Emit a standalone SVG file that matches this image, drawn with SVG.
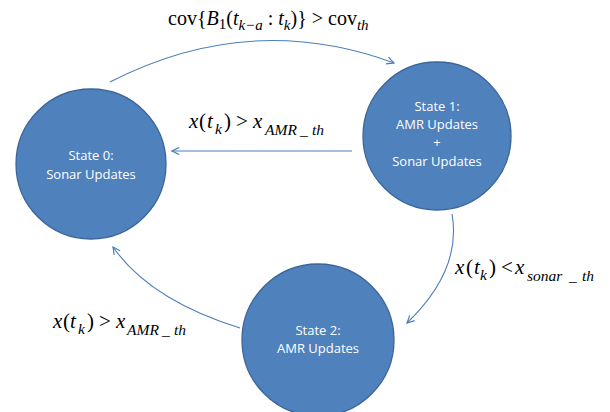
<svg xmlns="http://www.w3.org/2000/svg" width="610" height="412" viewBox="0 0 610 412">
<defs>
<style>
.st{fill:#4F81BD;stroke:#3A659A;stroke-width:1.3}
.lb{font-family:"Open Sans","Liberation Sans",sans-serif;font-size:13px;fill:#fff;text-anchor:middle}
.cn{fill:none;stroke:#4A7EBB;stroke-width:1.1}
.m{font-family:"Liberation Serif",serif;font-size:20px;fill:#000}
.n{font-family:"Liberation Serif",serif;font-size:21px;fill:#000}
.i{font-style:italic}
.s{font-style:italic;font-size:15px}
.t{font-style:italic;font-size:15.5px}
</style>
<marker id="ah" viewBox="0 0 10 10" refX="9" refY="5" markerWidth="9" markerHeight="9" markerUnits="userSpaceOnUse" orient="auto">
<path d="M1,1 L9,5 L1,9" fill="none" stroke="#4A7EBB" stroke-width="1.3"/>
</marker>
</defs>
<rect width="610" height="412" fill="#fff"/>
<g id="connectors">
<path class="cn" d="M110,82 Q250,10 394,63" marker-end="url(#ah)"/>
<path class="cn" d="M352,151 L172,151" marker-end="url(#ah)"/>
<path class="cn" d="M452,214 Q462,270 407,323" marker-end="url(#ah)"/>
<path class="cn" d="M240,328 Q150,300 113,247" marker-end="url(#ah)"/>
</g>
<g id="state0">
<circle class="st" cx="91" cy="164" r="75"/>
<text class="lb" x="91" y="160">State 0:</text>
<text class="lb" x="91" y="179">Sonar Updates</text>
</g>
<g id="state1">
<circle class="st" cx="437" cy="136" r="74"/>
<text class="lb" x="437" y="111">State 1:</text>
<text class="lb" x="437" y="129">AMR Updates</text>
<text class="lb" x="437" y="147">+</text>
<text class="lb" x="437" y="166">Sonar Updates</text>
</g>
<g id="state2">
<circle class="st" cx="318" cy="340" r="76"/>
<text class="lb" x="318" y="335">State 2:</text>
<text class="lb" x="318" y="353">AMR Updates</text>
</g>
<g id="labels">
<text class="m" x="168" y="25">cov{<tspan class="i">B</tspan><tspan font-size="15" dy="4">1</tspan><tspan dy="-4">(</tspan><tspan class="i">t</tspan><tspan class="s" dy="5">k−a</tspan><tspan dy="-5"> : </tspan><tspan class="i">t</tspan><tspan class="s" dy="5">k</tspan><tspan dy="-5">)} &gt; cov</tspan><tspan class="s" dy="5">th</tspan></text>
<g transform="translate(189,128)">
<text class="n"><tspan class="i" x="0" y="0">x</tspan><tspan x="10">(</tspan><tspan class="i" x="18">t</tspan><tspan class="t" x="26" y="6">k</tspan><tspan x="35" y="0">)</tspan><tspan x="47">&gt;</tspan><tspan class="i" x="64">x</tspan><tspan class="t" x="76" y="7">AMR</tspan><tspan class="t" x="111">_</tspan><tspan class="t" x="123">th</tspan></text>
</g>
<g transform="translate(455,274)">
<text class="n"><tspan class="i" x="0" y="0">x</tspan><tspan x="11">(</tspan><tspan class="i" x="19">t</tspan><tspan class="t" x="25" y="6">k</tspan><tspan x="34" y="0">)</tspan><tspan x="46">&lt;</tspan><tspan class="i" x="60">x</tspan><tspan class="t" x="72" y="7">sonar</tspan><tspan class="t" x="114">_</tspan><tspan class="t" x="127">th</tspan></text>
</g>
<g transform="translate(53,328)">
<text class="n"><tspan class="i" x="0" y="0">x</tspan><tspan x="10">(</tspan><tspan class="i" x="17">t</tspan><tspan class="t" x="25" y="6">k</tspan><tspan x="34" y="0">)</tspan><tspan x="46">&gt;</tspan><tspan class="i" x="63">x</tspan><tspan class="t" x="74" y="7">AMR</tspan><tspan class="t" x="109">_</tspan><tspan class="t" x="121">th</tspan></text>
</g>
</g>
</svg>
